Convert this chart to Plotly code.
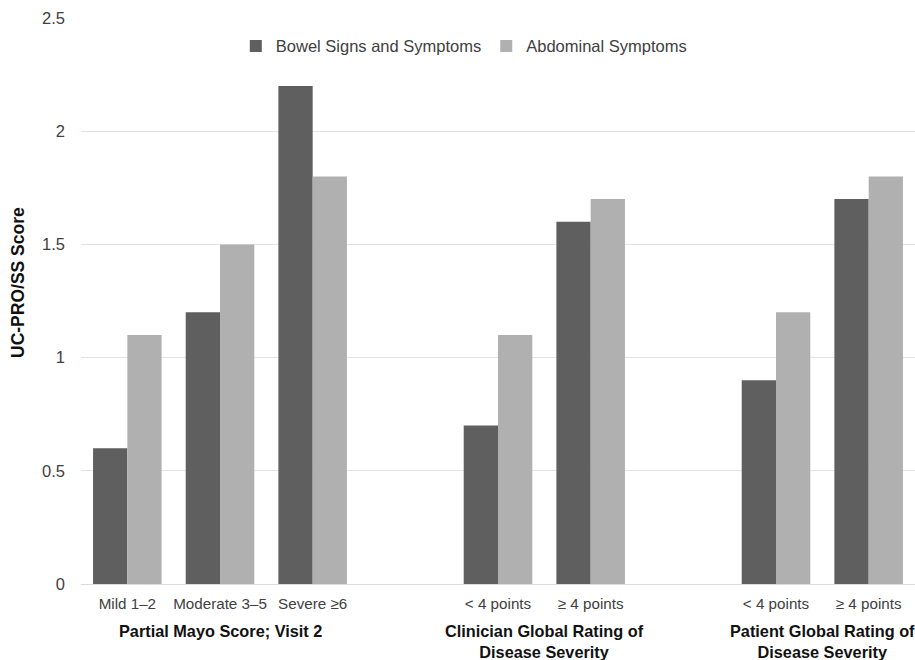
import plotly.graph_objects as go

tick_labels = ["Mild 1–2", "Moderate 3–5", "Severe ≥6", "", "< 4 points", "≥ 4 points", "", "< 4 points", "≥ 4 points"]
bar_slots = [0, 1, 2, 4, 5, 7, 8]
bowel = [0.6, 1.2, 2.2, 0.7, 1.6, 0.9, 1.7]
abdominal = [1.1, 1.5, 1.8, 1.1, 1.7, 1.2, 1.8]
group_titles = ["Partial Mayo Score; Visit 2",
                "Clinician Global Rating of<br>Disease Severity",
                "Patient Global Rating of<br>Disease Severity"]
group_centers = [1, 4.5, 7.5]

font = "Arial, Liberation Sans, sans-serif"
fig = go.Figure()
fig.add_trace(go.Bar(x=bar_slots, y=bowel, name="Bowel Signs and Symptoms",
                     marker=dict(color="#5f5f5f", line=dict(width=0))))
fig.add_trace(go.Bar(x=bar_slots, y=abdominal, name="Abdominal Symptoms",
                     marker=dict(color="#b0b0b0", line=dict(width=0))))

for t, c in zip(group_titles, group_centers):
    fig.add_annotation(x=c, xref="x", y=-0.064, yref="paper", yanchor="top",
                       text="<b>" + t + "</b>", showarrow=False,
                       font=dict(family=font, size=16.3, color="#111111"))

fig.update_layout(
    width=915, height=660,
    margin=dict(l=81, r=0, t=18, b=76),
    paper_bgcolor="white", plot_bgcolor="white",
    barmode="group", bargap=0.26, bargroupgap=0,
    font=dict(family=font, size=16, color="#404040"),
    legend=dict(orientation="h", x=0.459, xanchor="center", y=0.95, yanchor="middle",
                font=dict(family=font, size=16.5, color="#404040"), itemwidth=30,
                bgcolor="rgba(0,0,0,0)"),
    xaxis=dict(range=[-0.5, 8.5], tickmode="array", tickvals=list(range(9)),
               ticktext=tick_labels, showgrid=False, zeroline=False,
               showline=True, linecolor="#d9d9d9", linewidth=1, ticks="",
               ticklabelstandoff=6, tickangle=0, automargin=False,
               tickfont=dict(family=font, size=15.2, color="#404040")),
    yaxis=dict(range=[0, 2.5], tickvals=[0, 0.5, 1, 1.5, 2, 2.5],
               ticktext=["0", "0.5", "1", "1.5", "2", "2.5"],
               showgrid=True, gridcolor="#e4e4e4", gridwidth=1, zeroline=False,
               ticks="", ticklabelstandoff=15, automargin=False,
               tickfont=dict(family=font, size=16.5, color="#404040")),
)
fig.add_annotation(x=(18 - 81) / 834, xref="paper", xanchor="center",
                   y=(584 - 283) / 566, yref="paper",
                   text="<b>UC-PRO/SS Score</b>", textangle=-90, showarrow=False,
                   font=dict(family=font, size=17.5, color="#111111"))
fig.write_html("out.html", config={"displayModeBar": False},
               post_script="document.body.style.margin='0';")
